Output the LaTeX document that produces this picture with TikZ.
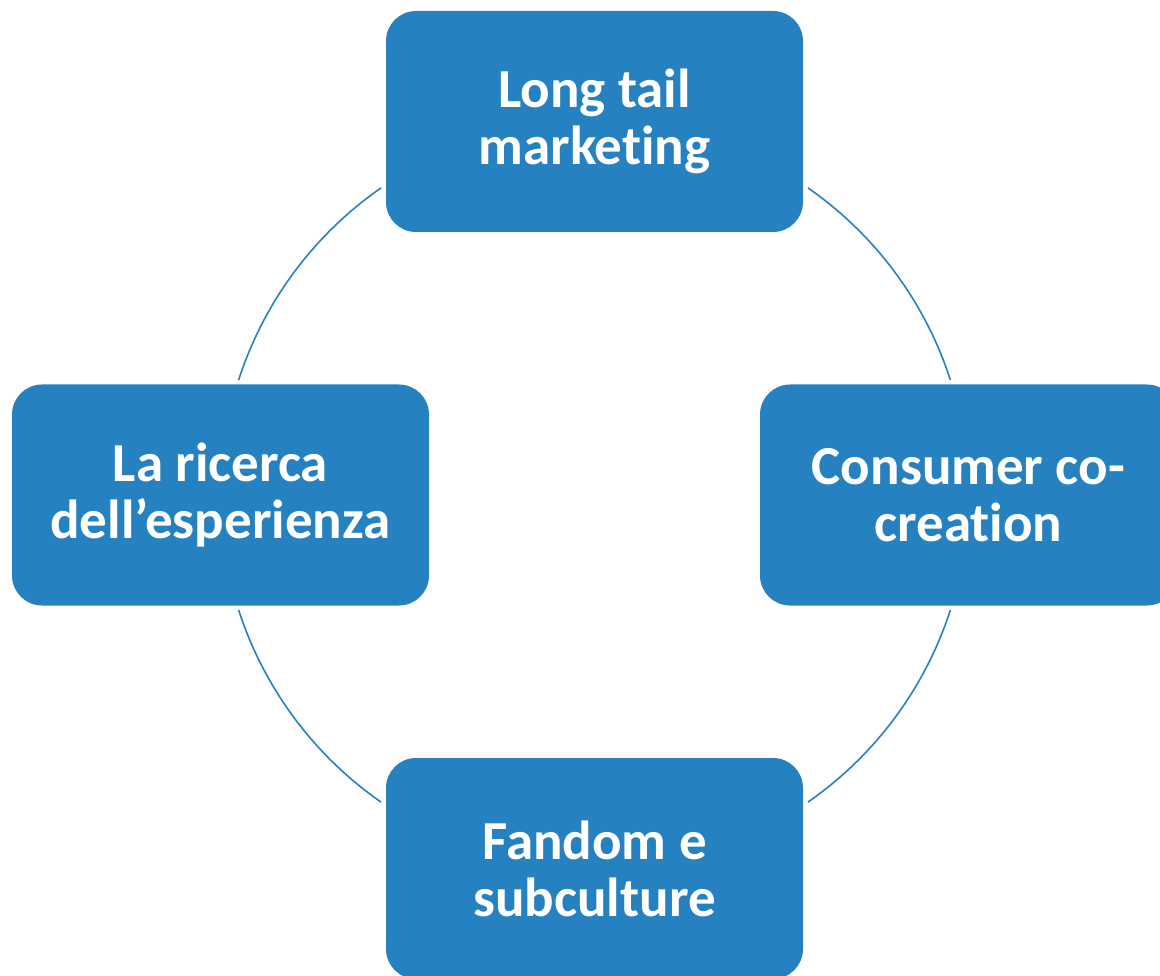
\documentclass[tikz,border=0pt]{standalone}
\usepackage{fontspec}
\setmainfont{Carlito}[Ligatures={NoCommon,NoContextual}]
\definecolor{boxblue}{HTML}{2681C0}
\begin{document}
\begin{tikzpicture}[x=1pt,y=-1pt,
  card/.style={fill=boxblue, rounded corners=30pt, minimum width=417pt, minimum height=221pt,
    inner sep=0pt, text=white, align=center,
    font=\fontsize{55}{57}\selectfont\bfseries},
  ring/.style={draw=boxblue, line width=1.6pt}]
\useasboundingbox (0,0) rectangle (1160,976);
\clip (0,0) rectangle (1160,976);
\coordinate (ctr) at (594.5,495);
\node[card] (top) at (594.5,121.5) {Long tail\\marketing};
\node[card] (left) at (220.5,495) {La ricerca\\dell’esperienza};
\node[card] (right) at (968.5,495) {Consumer co-\\creation};
\node[card] (bottom) at (594.5,868.5) {Fandom e\\subculture};
\begin{scope}[y=1pt]
\draw[ring] ([shift={(124.8:374pt)}]ctr) arc[start angle=124.8, end angle=162.1, radius=374pt];
\draw[ring] ([shift={(55.2:374pt)}]ctr) arc[start angle=55.2, end angle=17.9, radius=374pt];
\draw[ring] ([shift={(-17.9:374pt)}]ctr) arc[start angle=-17.9, end angle=-55.2, radius=374pt];
\draw[ring] ([shift={(-124.8:374pt)}]ctr) arc[start angle=-124.8, end angle=-162.1, radius=374pt];
\end{scope}
\end{tikzpicture}
\end{document}
